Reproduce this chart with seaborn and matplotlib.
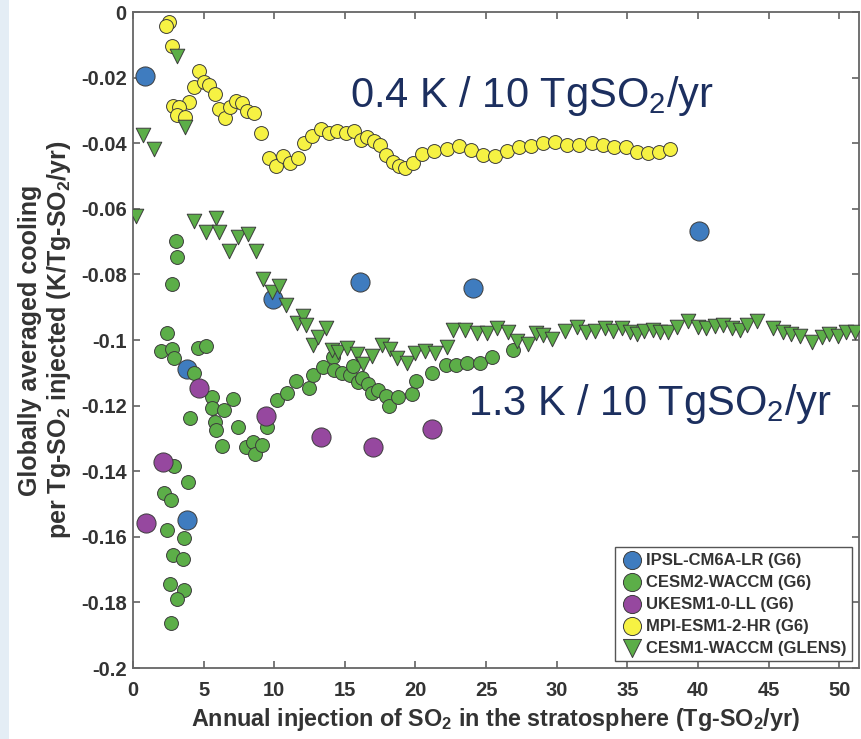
import matplotlib
matplotlib.use('Agg')
import matplotlib.pyplot as plt
import seaborn as sns
from matplotlib.patches import Rectangle

# ---------------- data ----------------
ipsl_x = [0.85, 3.82, 3.82, 9.91, 16.07, 24.06, 40.06]
ipsl_y = [-0.0196, -0.1087, -0.1550, -0.0876, -0.0824, -0.0842, -0.0668]

cesm2_x = [3.04, 3.11, 2.76, 2.41, 1.98, 2.76, 2.90, 4.60, 5.17, 4.32, 5.59, 5.59,
           6.44, 7.08, 4.03, 5.80, 5.87, 6.30, 7.43, 8.00, 8.49, 8.63, 9.13, 9.48,
           10.19, 10.90, 11.54, 12.46, 12.74, 13.45, 14.15, 14.22, 14.79, 15.36, 15.57,
           15.92, 16.21, 16.63, 16.91, 17.34, 17.91, 18.12, 18.75, 19.74, 20.03, 21.16,
           22.15, 22.86, 23.64, 24.56, 25.41, 26.89,
           2.90, 3.89, 2.19, 2.69, 2.41, 3.61, 2.83, 3.54, 2.62, 3.61, 3.11, 2.69]
cesm2_y = [-0.0698, -0.0747, -0.0830, -0.0980, -0.1035, -0.1026, -0.1054, -0.1023, -0.1017,
           -0.1100, -0.1173, -0.1207, -0.1213, -0.1179, -0.1237, -0.1250, -0.1274, -0.1323,
           -0.1265, -0.1326, -0.1311, -0.1348, -0.1320, -0.1265, -0.1182, -0.1161, -0.1124,
           -0.1145, -0.1106, -0.1081, -0.1051, -0.1090, -0.1100, -0.1106, -0.1078, -0.1127,
           -0.1115, -0.1133, -0.1161, -0.1152, -0.1170, -0.1201, -0.1173, -0.1164, -0.1124,
           -0.1100, -0.1075, -0.1075, -0.1069, -0.1069, -0.1051, -0.1032,
           -0.1384, -0.1433, -0.1467, -0.1488, -0.1580, -0.1605, -0.1657, -0.1669, -0.1743,
           -0.1761, -0.1789, -0.1862]

ukesm_x = [0.92, 2.12, 4.67, 9.41, 13.30, 16.99, 21.16]
ukesm_y = [-0.1559, -0.1372, -0.1145, -0.1231, -0.1296, -0.1326, -0.1271]

mpi_x = [2.55, 2.34, 2.76, 4.67, 4.32, 5.02, 5.38, 5.80, 3.96, 2.83, 3.26, 3.11, 3.68,
         6.09, 6.51, 6.86, 7.29, 7.71, 8.07, 8.56, 9.06, 9.62, 10.12, 10.61, 11.11, 11.68,
         12.10, 12.67, 13.31, 13.87, 14.44, 15.07, 15.64, 16.14, 16.56, 17.06, 17.48,
         17.91, 18.40, 18.83, 19.25, 19.82, 20.45, 21.30, 22.22, 23.07, 23.92, 24.77,
         25.62, 26.47, 27.32, 28.17, 29.02, 29.87, 30.71, 31.56, 32.48, 33.26, 34.04,
         34.89, 35.67, 36.45, 37.23, 38.00]
mpi_y = [-0.0031, -0.0043, -0.0104, -0.0181, -0.0230, -0.0214, -0.0224, -0.0251, -0.0273,
         -0.0288, -0.0291, -0.0315, -0.0319, -0.0297, -0.0322, -0.0291, -0.0270, -0.0276,
         -0.0303, -0.0309, -0.0368, -0.0444, -0.0469, -0.0438, -0.0459, -0.0444, -0.0398,
         -0.0377, -0.0358, -0.0368, -0.0364, -0.0368, -0.0364, -0.0389, -0.0380, -0.0392,
         -0.0407, -0.0435, -0.0456, -0.0469, -0.0475, -0.0459, -0.0432, -0.0423, -0.0417,
         -0.0410, -0.0420, -0.0435, -0.0438, -0.0423, -0.0413, -0.0410, -0.0398, -0.0395,
         -0.0407, -0.0407, -0.0398, -0.0404, -0.0413, -0.0413, -0.0426, -0.0429, -0.0426,
         -0.0417]

glens_x = [0.21, 0.71, 1.49, 3.11, 3.68, 4.30, 5.17, 5.87, 6.10, 6.80, 7.43, 8.14, 8.70,
           9.20, 9.84, 10.33, 10.83, 11.60, 12.03, 12.24, 12.74, 13.10, 13.66, 14.10,
           14.50, 15.15, 15.85, 16.30, 16.90, 17.60, 18.20, 18.70, 19.40, 19.96, 20.67,
           21.40, 22.20, 22.65, 23.50, 24.35, 25.05, 25.80, 26.55, 27.20, 27.95, 28.55,
           29.00, 29.70, 30.60, 31.40, 32.10, 32.70, 33.40, 34.00, 34.60, 35.20, 35.70,
           36.20, 36.80, 37.30, 37.90, 38.50, 39.30, 40.00, 40.60, 41.20, 41.80, 42.40,
           43.00, 43.50, 44.20, 45.30, 46.00, 46.60, 47.20, 48.10, 48.80, 49.30, 49.90,
           50.50, 51.10]
glens_y = [-0.0622, -0.0374, -0.0417, -0.0135, -0.0352, -0.0637, -0.0670, -0.0628, -0.0670,
           -0.0729, -0.0686, -0.0677, -0.0729, -0.0815, -0.0855, -0.0836, -0.0894, -0.0949,
           -0.0928, -0.0953, -0.1014, -0.0990, -0.0962, -0.1030, -0.1036, -0.1023, -0.1044,
           -0.1072, -0.1050, -0.1014, -0.1026, -0.1054, -0.1069, -0.1041, -0.1035, -0.1041,
           -0.1020, -0.0968, -0.0968, -0.0980, -0.0980, -0.0962, -0.0977, -0.1002, -0.1011,
           -0.0980, -0.0986, -0.0998, -0.0974, -0.0959, -0.0977, -0.0974, -0.0962, -0.0974,
           -0.0962, -0.0977, -0.0983, -0.0974, -0.0968, -0.0977, -0.0977, -0.0959, -0.0943,
           -0.0959, -0.0962, -0.0956, -0.0953, -0.0962, -0.0968, -0.0953, -0.0943, -0.0962,
           -0.0977, -0.0983, -0.0989, -0.1005, -0.0992, -0.0983, -0.0989, -0.0977, -0.0977]

x_ticks = [0, 5, 10, 15, 20, 25, 30, 35, 40, 45, 50]
x_tick_labels = ['0', '5', '10', '15', '20', '25', '30', '35', '40', '45', '50']
y_ticks = [0, -0.02, -0.04, -0.06, -0.08, -0.1, -0.12, -0.14, -0.16, -0.18, -0.2]
y_tick_labels = ['0', '-0.02', '-0.04', '-0.06', '-0.08', '-0.1', '-0.12', '-0.14',
                 '-0.16', '-0.18', '-0.2']

labels = ['IPSL-CM6A-LR (G6)', 'CESM2-WACCM (G6)', 'UKESM1-0-LL (G6)',
          'MPI-ESM1-2-HR (G6)', 'CESM1-WACCM (GLENS)']
annot1 = '0.4 K / 10 TgSO$_2$/yr'
annot2 = '1.3 K / 10 TgSO$_2$/yr'

# ---------------- style ----------------
sns.set_style('ticks')
plt.rcParams['font.family'] = ['Liberation Sans', 'DejaVu Sans']
plt.rcParams['mathtext.default'] = 'regular'
plt.rcParams['axes.unicode_minus'] = False

fig = plt.figure(figsize=(8.61, 7.39), dpi=100)
fig.patches.append(Rectangle((0, 0), 9 / 861, 1, transform=fig.transFigure,
                             facecolor='#e4edf5', edgecolor='none', zorder=0))
ax = fig.add_axes([133 / 861, 1 - 668 / 739, (859 - 133) / 861, (668 - 12) / 739])

edge = '#3c3c3c'
series = [
    (ipsl_x, ipsl_y, labels[0], '#3f7cbf', 'o', 190),
    (cesm2_x, cesm2_y, labels[1], '#5cae48', 'o', 100),
    (ukesm_x, ukesm_y, labels[2], '#96489f', 'o', 190),
    (mpi_x, mpi_y, labels[3], '#f6f243', 'o', 100),
    (glens_x, glens_y, labels[4], '#5cae48', 'v', 110),
]
for i, (xs, ys, lab, col, mk, s) in enumerate(series):
    sns.scatterplot(x=xs, y=ys, ax=ax, color=col, marker=mk, s=s,
                    edgecolor=edge, linewidth=0.7, label=lab, zorder=3 + i)

ax.set_xlim(0, 51.4)
ax.set_ylim(-0.2, 0)
ax.set_xticks(x_ticks)
ax.set_xticklabels(x_tick_labels)
ax.set_yticks(y_ticks)
ax.set_yticklabels(y_tick_labels)
ax.tick_params(direction='in', top=True, right=True, length=5, width=1.1,
               color='#555555', labelcolor='#333333', labelsize=14.5)
ax.tick_params(axis='x', pad=9)
ax.tick_params(axis='y', pad=4.5)
for t in ax.get_xticklabels() + ax.get_yticklabels():
    t.set_fontweight('bold')
for sp in ax.spines.values():
    sp.set_color('#666666')
    sp.set_linewidth(1.3)

ax.set_xlabel('Annual injection of SO$_2$ in the stratosphere (Tg-SO$_2$/yr)',
              fontsize=16.8, fontweight='bold', color='#333333', labelpad=5)
ax.set_ylabel('Globally averaged cooling\nper Tg-SO$_2$ injected (K/Tg-SO$_2$/yr)',
              fontsize=18, fontweight='bold', color='#333333', labelpad=6,
              linespacing=1.15)

ax.text(15.36, -0.0291, annot1, fontsize=30, color='#1c2f5f', ha='left',
        va='baseline', zorder=10)
ax.text(23.7, -0.1228, annot2, fontsize=30, color='#1c2f5f', ha='left',
        va='baseline', zorder=10)

leg = ax.legend(loc='lower right', frameon=True, fancybox=False, edgecolor='#555555',
                framealpha=1, prop=dict(weight='bold', size=12),
                handletextpad=0.2, borderpad=0.35, labelspacing=0.42,
                borderaxespad=0.4, handlelength=1.3)
leg.get_frame().set_linewidth(1.0)
for h in leg.legend_handles:
    h.set_sizes([170])
for t in leg.get_texts():
    t.set_color('#333333')

fig.savefig('out.png', dpi=100)
